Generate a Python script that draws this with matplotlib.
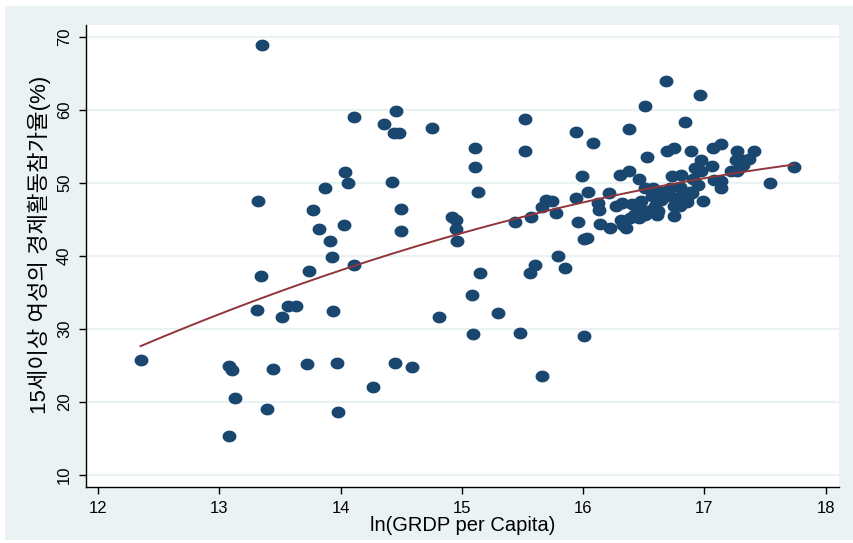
import numpy as np
import matplotlib.pyplot as plt
from matplotlib.path import Path
from matplotlib.patches import Rectangle

# ln(GRDP per capita) and female labour force participation rate (%)
ln_grdp = [
    12.35, 13.08, 13.10, 13.13, 13.08, 13.35, 13.32, 13.34, 13.31, 13.44,
    13.39, 13.52, 13.57, 13.63, 13.72, 13.74, 13.77, 13.82, 13.87, 13.91,
    13.93, 13.94, 13.97, 13.98, 14.03, 14.04, 14.06, 14.11, 14.11, 14.27,
    14.36, 14.42, 14.44, 14.48, 14.46, 14.45, 14.50, 14.50, 14.59, 14.75,
    14.81, 14.92, 14.95, 14.95, 14.96, 15.08, 15.09, 15.11, 15.11, 15.13,
    15.15, 15.30, 15.44, 15.48, 15.52, 15.52, 15.56, 15.57, 15.60, 15.66,
    15.66, 15.69, 15.74, 15.78, 15.79, 15.85, 15.94, 15.94, 15.96, 15.99,
    16.01, 16.03, 16.01, 16.04, 16.08, 16.12, 16.13, 16.14, 16.22, 16.21,
    16.27, 16.32, 16.30, 16.31, 16.33, 16.35, 16.38, 16.38, 16.40, 16.39,
    16.42, 16.46, 16.46, 16.48, 16.48, 16.51, 16.51, 16.51, 16.53, 16.57,
    16.57, 16.58, 16.62, 16.61, 16.64, 16.65, 16.68, 16.69, 16.72, 16.71,
    16.73, 16.75, 16.75, 16.75, 16.79, 16.80, 16.80, 16.81, 16.84, 16.86,
    16.88, 16.89, 16.91, 16.92, 16.90, 16.95, 16.96, 16.97, 16.97, 16.99,
    17.06, 17.07, 17.08, 17.14, 17.14, 17.14, 17.22, 17.27, 17.26, 17.27,
    17.30, 17.32, 17.32, 17.37, 17.41, 17.54, 17.74, 16.59, 16.86, 16.53,
]
flfp = [
    25.8, 25.0, 24.4, 20.5, 15.4, 68.9, 47.5, 37.2, 32.6, 24.5,
    19.0, 31.6, 33.2, 33.2, 25.2, 37.9, 46.3, 43.7, 49.3, 42.0,
    39.8, 32.5, 25.3, 18.7, 44.2, 51.5, 50.0, 59.0, 38.8, 22.1,
    58.1, 50.2, 56.9, 56.9, 59.8, 25.3, 46.5, 43.4, 24.8, 57.5,
    31.6, 45.4, 44.9, 43.7, 42.0, 34.7, 29.3, 54.8, 52.2, 48.7,
    37.7, 32.2, 44.7, 29.4, 58.8, 54.4, 37.7, 45.3, 38.8, 23.6,
    46.7, 47.7, 47.6, 45.9, 40.0, 38.3, 57.0, 48.0, 44.7, 50.95,
    42.3, 42.5, 29.1, 48.7, 55.5, 47.2, 46.3, 44.4, 43.8, 48.6,
    46.8, 47.3, 51.1, 44.9, 44.2, 43.9, 57.4, 51.6, 47.1, 45.2,
    45.6, 45.2, 50.6, 47.5, 46.2, 60.6, 49.3, 45.6, 53.6, 48.2,
    46.3, 49.3, 46.1, 45.6, 47.7, 48.8, 64.0, 54.4, 49.3, 48.2,
    50.9, 54.8, 46.9, 45.5, 48.1, 49.5, 46.8, 51.1, 58.3, 47.9,
    48.7, 54.4, 50.6, 52.0, 48.6, 49.7, 62.0, 53.1, 51.6, 47.5,
    52.3, 54.8, 50.4, 50.3, 55.3, 49.3, 51.6, 51.7, 53.2, 54.4,
    52.2, 52.5, 53.1, 53.3, 54.4, 50.0, 52.2, 46.8, 47.4, 46.1,
]
x_ticks = [12, 13, 14, 15, 16, 17, 18]
y_ticks = [10, 20, 30, 40, 50, 60, 70]

bg = "#eaf2f3"
navy = "#1a476f"
maroon = "#90353b"

plt.rcParams["font.family"] = ["Liberation Sans", "Noto Sans CJK KR", "DejaVu Sans"]

fig = plt.figure(figsize=(8.54, 5.43), dpi=100, facecolor="white")
fig.add_artist(Rectangle((5 / 854, 3 / 543), 848 / 854, 534 / 543,
                         transform=fig.transFigure, facecolor=bg,
                         edgecolor="none", zorder=-5))
ax = fig.add_axes([86 / 854, 1 - 487 / 543, 753 / 854, 462 / 543])
ax.set_facecolor("white")

# slightly flattened circle marker, like the original
t = np.linspace(0, 2 * np.pi, 60)
ellipse = Path(np.column_stack([np.cos(t), 0.85 * np.sin(t)]), closed=True)

ax.scatter(ln_grdp, flfp, s=100, marker=ellipse, color=navy, linewidths=0, zorder=3)

# quadratic fit (qfit)
coef = np.polyfit(ln_grdp, flfp, 2)
xs = np.linspace(min(ln_grdp), max(ln_grdp), 200)
ax.plot(xs, np.polyval(coef, xs), color=maroon, lw=1.4, zorder=4)

ax.set_xlim(11.9, 18.11)
ax.set_ylim(8.36, 71.64)
ax.set_xticks(x_ticks)
ax.set_yticks(y_ticks)
ax.set_yticklabels([str(v) for v in y_ticks], rotation=90, va="center")
ax.tick_params(direction="out", length=5, width=1, colors="black", labelsize=12, pad=5)
ax.grid(axis="y", color=bg, lw=1.6)
ax.set_axisbelow(True)
for side in ["top", "right"]:
    ax.spines[side].set_visible(False)
for side in ["left", "bottom"]:
    ax.spines[side].set_linewidth(1)

ax.set_xlabel("ln(GRDP per Capita)", fontsize=14.5, labelpad=0)
ax.set_ylabel("15세이상 여성의 경제활동참가율(%)", fontsize=16)
ax.yaxis.set_label_coords(-0.047, 0.524)

fig.savefig("out.png", dpi=100, facecolor="white")
